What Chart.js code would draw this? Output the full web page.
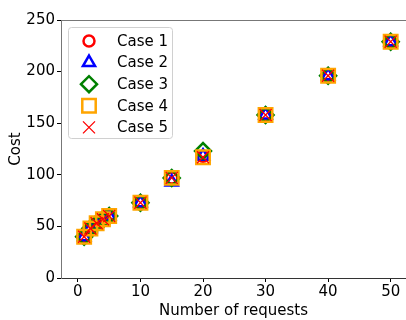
<!DOCTYPE html>
<html>
<head>
<meta charset="utf-8">
<script src="https://cdn.jsdelivr.net/npm/chart.js@4/dist/chart.umd.min.js"></script>
<style>
  html, body { margin: 0; padding: 0; background: #fff; overflow: hidden; }
  #wrap { width: 406px; height: 320px; overflow: hidden; }
</style>
</head>
<body>
<div id="wrap"><canvas id="grafico" width="418" height="320"></canvas></div>
<script>
// datos
const requests = [1, 2, 3, 4, 5, 10, 15, 20, 30, 40, 50];
const case1 = [40, 48, 53, 57, 60, 73, 97, 118, 158, 196, 229];
const case2 = [40, 48, 53, 57, 60, 73, 93, 118, 158, 196, 229];
const case3 = [40, 48, 53, 57, 60, 73, 97, 123, 158, 196, 229];
const case4 = [40, 48, 53, 57, 60, 73, 97, 117, 158, 196, 229];
const case5 = [40, 48, 53, 57, 60, 73, 97, 117, 158, 196, 229];
const xTicks = [0, 10, 20, 30, 40, 50];
const yTicks = [0, 50, 100, 150, 200, 250];

const FONT = "'DejaVu Sans', sans-serif";

function puntos(ys) {
  return requests.map((x, i) => ({ x: x, y: ys[i] }));
}

// estilo de cada serie
const series = [
  { label: 'Case 1', data: case1, color: '#ff0000', style: 'circle',   r: 5.5, w: 2.5 },
  { label: 'Case 2', data: case2, color: '#0000ff', style: 'triangle', r: 7,   w: 2.5 },
  { label: 'Case 3', data: case3, color: '#008000', style: 'rectRot',  r: 8,   w: 2.5 },
  { label: 'Case 4', data: case4, color: '#ffa500', style: 'rect',     r: 9.5, w: 2.5 },
  { label: 'Case 5', data: case5, color: '#ff0000', style: 'crossRot', r: 8.5, w: 1.3 }
];

// marco superior + leyenda dentro del area
const extras = {
  id: 'extras',
  afterDraw(chart) {
    const ctx = chart.ctx;
    const a = chart.chartArea;
    ctx.save();
    ctx.strokeStyle = '#777';
    ctx.lineWidth = 1;
    ctx.beginPath();
    ctx.moveTo(a.left, a.top + 0.5);
    ctx.lineTo(a.right, a.top + 0.5);
    ctx.stroke();

    // caja de leyenda
    const bx = 68.5, by = 27.5, bw = 104, bh = 111;
    ctx.fillStyle = 'rgba(255,255,255,0.8)';
    ctx.strokeStyle = '#d0d0d0';
    ctx.beginPath();
    ctx.roundRect(bx, by, bw, bh, 3);
    ctx.fill();
    ctx.stroke();

    ctx.font = '15px ' + FONT;
    ctx.textBaseline = 'middle';
    ctx.textAlign = 'left';
    series.forEach((s, i) => {
      const y = 41 + i * 21.6;
      ctx.strokeStyle = s.color;
      ctx.fillStyle = 'rgba(0,0,0,0)';
      ctx.lineWidth = s.w;
      Chart.helpers.drawPoint(ctx, { pointStyle: s.style, radius: s.r, rotation: 0, borderWidth: s.w }, 89, y);
      ctx.fillStyle = '#000';
      ctx.fillText(s.label, 117, y + 1);
    });
    ctx.restore();
  }
};

new Chart(document.getElementById('grafico'), {
  type: 'scatter',
  data: {
    datasets: series.map((s, i) => ({
      label: s.label,
      data: puntos(s.data),
      pointStyle: s.style,
      pointRadius: s.r,
      pointHoverRadius: s.r,
      borderColor: s.color,
      backgroundColor: 'rgba(0,0,0,0)',
      pointBorderWidth: s.w,
      order: series.length - i
    }))
  },
  options: {
    responsive: false,
    animation: false,
    events: [],
    layout: { padding: { top: 20, right: 12, left: 0, bottom: 0 } },
    plugins: {
      legend: { display: false },
      tooltip: { enabled: false }
    },
    scales: {
      x: {
        type: 'linear',
        min: -2.7,
        max: 52.45,
        afterBuildTicks: (sc) => { sc.ticks = xTicks.map(v => ({ value: v })); },
        afterFit: (sc) => { sc.height = 42; sc.paddingLeft = 0; sc.paddingRight = 0; },
        grid: { drawOnChartArea: false, drawTicks: true, tickLength: 4, color: '#000' },
        border: { color: '#333', width: 1 },
        ticks: { color: '#000', font: { family: FONT, size: 15 }, padding: 1, maxRotation: 0 },
        title: { display: true, text: 'Number of requests', color: '#000', font: { family: FONT, size: 15 }, padding: { top: 0, bottom: 0 } }
      },
      y: {
        type: 'linear',
        min: 0,
        max: 250,
        afterBuildTicks: (sc) => { sc.ticks = yTicks.map(v => ({ value: v })); },
        afterFit: (sc) => { sc.width = 61; sc.paddingTop = 0; sc.paddingBottom = 0; },
        grid: { drawOnChartArea: false, drawTicks: true, tickLength: 4, color: '#000' },
        border: { color: '#777', width: 1 },
        ticks: { color: '#000', font: { family: FONT, size: 15 }, padding: 2 },
        title: { display: true, text: 'Cost', color: '#000', font: { family: FONT, size: 15 }, padding: { top: 7, bottom: 0 } }
      }
    }
  },
  plugins: [extras]
});
</script>
</body>
</html>
